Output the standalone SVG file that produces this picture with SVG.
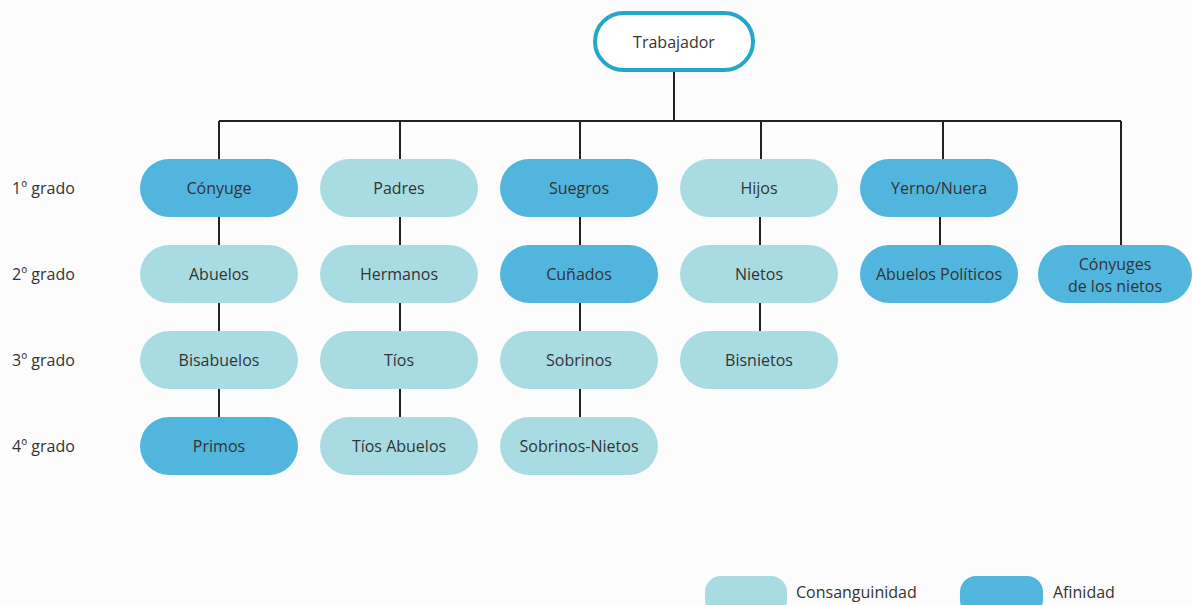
<svg xmlns="http://www.w3.org/2000/svg" width="1192" height="605" viewBox="0 0 1192 605">
<style>
text{font-family:"Open Sans","Liberation Sans",sans-serif;font-size:16px;fill:#333;}
.c{text-anchor:middle;dominant-baseline:central;}
.l{fill:#a9dce2;}
.d{fill:#52b5de;}
.ln{stroke:#222;stroke-width:2;fill:none;}
</style>
<rect width="1192" height="605" fill="#fcfcfc"/>
<g id="connectors">
<path class="ln" d="M674 71V121M219 121H1121M219 121V159M400 121V159M580 121V159M761 121V159M943 121V159M1121 121V245"/>
<path class="ln" d="M219 217V417M400 217V417M580 217V417M760 217V331M940 217V245"/>
</g>
<g id="trabajador"><rect x="595" y="13" width="158" height="57" rx="28.5" fill="#fff" stroke="#22a8c9" stroke-width="4"/><text class="c" x="674" y="42">Trabajador</text></g>
<g id="grados">
<text x="12" y="194">1º grado</text>
<text x="12" y="280">2º grado</text>
<text x="12" y="366">3º grado</text>
<text x="12" y="452">4º grado</text>
</g>
<g id="conyuge"><rect class="d" x="140" y="159" width="158" height="58" rx="29"/><text class="c" x="219" y="188">Cónyuge</text></g>
<g id="abuelos"><rect class="l" x="140" y="245" width="158" height="58" rx="29"/><text class="c" x="219" y="274">Abuelos</text></g>
<g id="bisabuelos"><rect class="l" x="140" y="331" width="158" height="58" rx="29"/><text class="c" x="219" y="360">Bisabuelos</text></g>
<g id="primos"><rect class="d" x="140" y="417" width="158" height="58" rx="29"/><text class="c" x="219" y="446">Primos</text></g>
<g id="padres"><rect class="l" x="320" y="159" width="158" height="58" rx="29"/><text class="c" x="399" y="188">Padres</text></g>
<g id="hermanos"><rect class="l" x="320" y="245" width="158" height="58" rx="29"/><text class="c" x="399" y="274">Hermanos</text></g>
<g id="tios"><rect class="l" x="320" y="331" width="158" height="58" rx="29"/><text class="c" x="399" y="360">Tíos</text></g>
<g id="tios-abuelos"><rect class="l" x="320" y="417" width="158" height="58" rx="29"/><text class="c" x="399" y="446">Tíos Abuelos</text></g>
<g id="suegros"><rect class="d" x="500" y="159" width="158" height="58" rx="29"/><text class="c" x="579" y="188">Suegros</text></g>
<g id="cunados"><rect class="d" x="500" y="245" width="158" height="58" rx="29"/><text class="c" x="579" y="274">Cuñados</text></g>
<g id="sobrinos"><rect class="l" x="500" y="331" width="158" height="58" rx="29"/><text class="c" x="579" y="360">Sobrinos</text></g>
<g id="sobrinos-nietos"><rect class="l" x="500" y="417" width="158" height="58" rx="29"/><text class="c" x="579" y="446">Sobrinos-Nietos</text></g>
<g id="hijos"><rect class="l" x="680" y="159" width="158" height="58" rx="29"/><text class="c" x="759" y="188">Hijos</text></g>
<g id="nietos"><rect class="l" x="680" y="245" width="158" height="58" rx="29"/><text class="c" x="759" y="274">Nietos</text></g>
<g id="bisnietos"><rect class="l" x="680" y="331" width="158" height="58" rx="29"/><text class="c" x="759" y="360">Bisnietos</text></g>
<g id="yerno-nuera"><rect class="d" x="860" y="159" width="158" height="58" rx="29"/><text class="c" x="939" y="188">Yerno/Nuera</text></g>
<g id="abuelos-politicos"><rect class="d" x="860" y="245" width="158" height="58" rx="29"/><text class="c" x="939" y="274">Abuelos Políticos</text></g>
<g id="conyuges-nietos"><rect class="d" x="1038" y="245" width="154" height="58" rx="29"/><text x="1115" y="270" text-anchor="middle">Cónyuges</text><text x="1115" y="292" text-anchor="middle">de los nietos</text></g>
<g id="leyenda">
<rect class="l" x="705" y="576" width="82" height="40" rx="16"/>
<text x="796" y="598">Consanguinidad</text>
<rect class="d" x="960" y="576" width="83" height="40" rx="16"/>
<text x="1053" y="598">Afinidad</text>
</g>
</svg>
